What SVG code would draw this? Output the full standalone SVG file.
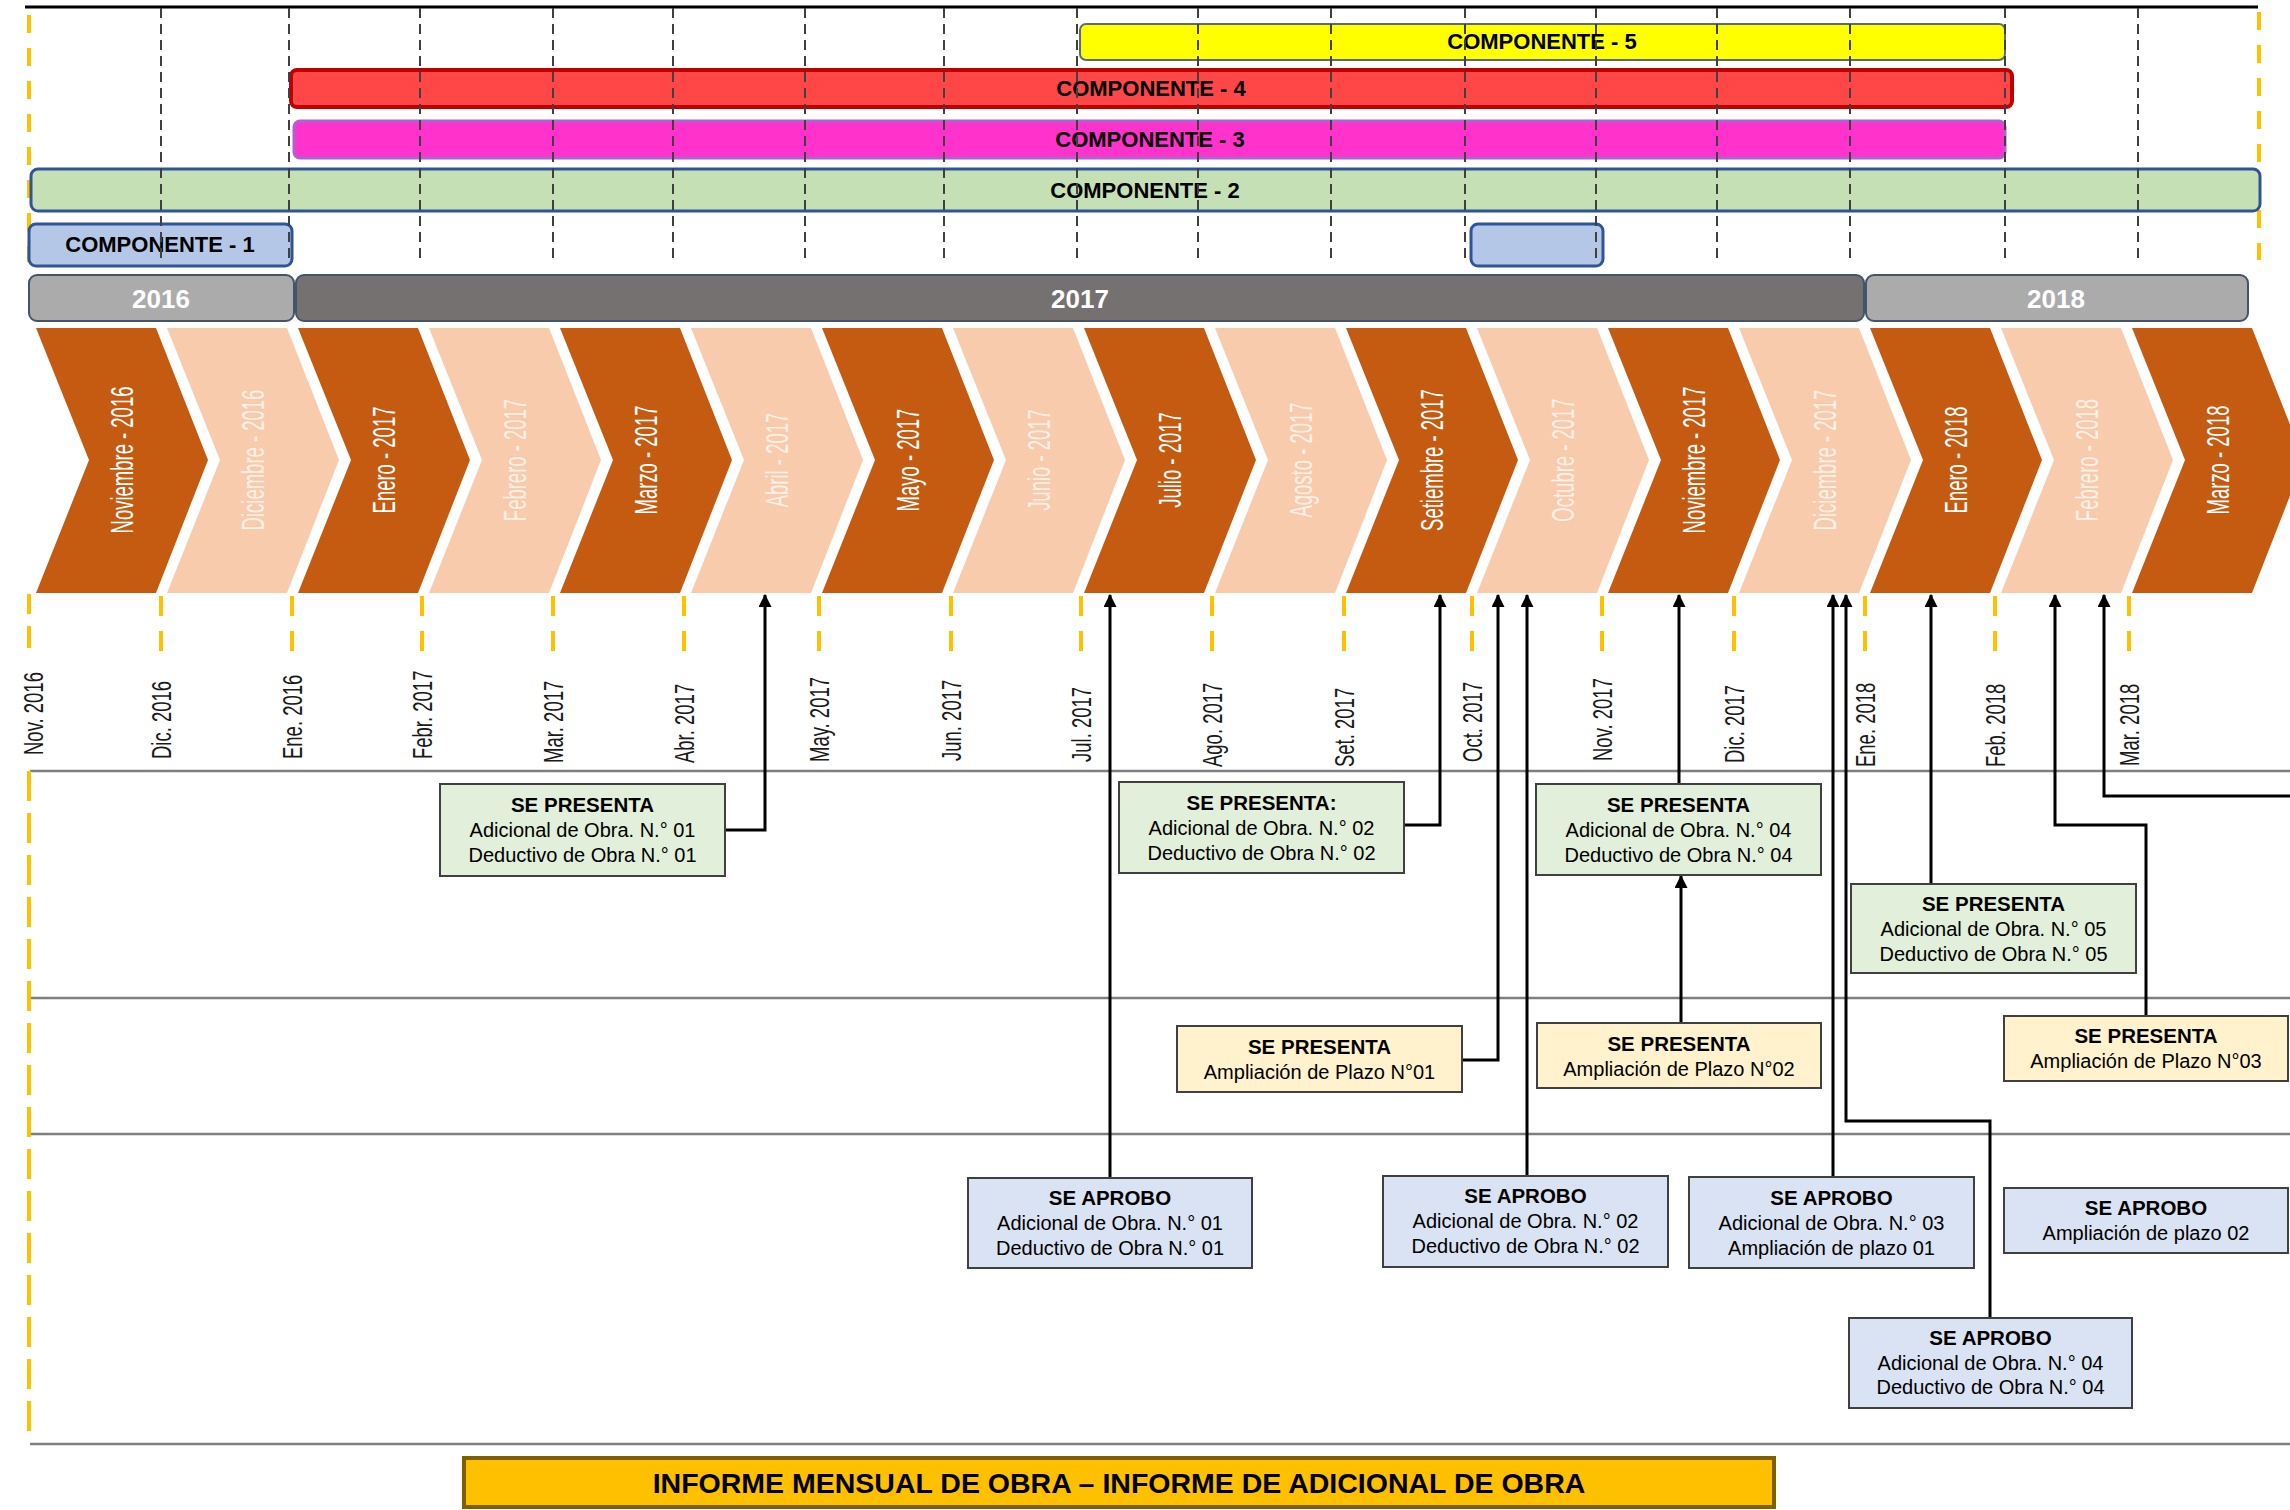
<svg xmlns="http://www.w3.org/2000/svg" width="2290" height="1510" viewBox="0 0 2290 1510">
<defs>
<style>
text{font-family:"Liberation Sans",Arial,sans-serif}
.comp{font-weight:bold;font-size:22px;fill:#000;text-anchor:middle}
.year{font-weight:bold;font-size:26px;fill:#fff;text-anchor:middle}
.chd{fill:#C55A11}
.chl{fill:#F8CBAD}
.ctd{font-size:18.5px;fill:#fff;text-anchor:middle}
.ctl{font-size:18.5px;fill:#FEF1E8;text-anchor:middle}
.mlab{font-size:18.5px;fill:#1a1a1a;text-anchor:start}
.gd{stroke:#404040;stroke-width:2;stroke-dasharray:10 6;fill:none}
.yd{stroke:#FFC000;stroke-width:4;stroke-dasharray:18 15;fill:none}
.tick{stroke:#FFC000;stroke-width:4;fill:none}
.sep{stroke:#7F7F7F;stroke-width:2.5;fill:none}
.bg{fill:#E2EFDA;stroke:#404040;stroke-width:2}
.by{fill:#FFF2CC;stroke:#404040;stroke-width:2}
.bb{fill:#DAE3F3;stroke:#404040;stroke-width:2}
.bt{font-weight:bold;font-size:20.5px;fill:#000;text-anchor:middle}
.bx{font-size:20px;fill:#000;text-anchor:middle}
.con{stroke:#000;stroke-width:3;fill:none;marker-end:url(#arr)}
</style>
<marker id="arr" viewBox="0 0 12 12" markerWidth="13" markerHeight="13" refX="11" refY="6" orient="auto" markerUnits="userSpaceOnUse">
<path d="M0,0 L12,6 L0,12 z" fill="#000"/>
</marker>
</defs>
<rect width="2290" height="1510" fill="#fff"/>

<g id="frame-top">
<line x1="25" y1="7" x2="2258" y2="7" stroke="#000" stroke-width="3"/>
<line class="yd" x1="29" y1="15" x2="29" y2="262"/>
<line class="yd" x1="2259" y1="12" x2="2259" y2="260"/>
</g>

<g id="componente-5">
<rect x="1080" y="24" width="925" height="36" rx="6" fill="#FFFF00" stroke="#5B6B7A" stroke-width="2"/>
<text class="comp" x="1542" y="49">COMPONENTE - 5</text>
</g>
<g id="componente-4">
<rect x="291" y="70" width="1721" height="37" rx="6" fill="#FF4747" stroke="#C00000" stroke-width="4"/>
<text class="comp" x="1151" y="96">COMPONENTE - 4</text>
</g>
<g id="componente-3">
<rect x="294" y="121" width="1711" height="37" rx="6" fill="#FF33CC" stroke="#B060D0" stroke-width="3"/>
<text class="comp" x="1150" y="147">COMPONENTE - 3</text>
</g>
<g id="componente-2">
<rect x="31" y="169" width="2229" height="42" rx="7" fill="#C5E0B4" stroke="#2F5597" stroke-width="3"/>
<text class="comp" x="1145" y="198">COMPONENTE - 2</text>
</g>
<g id="componente-1">
<rect x="29" y="224" width="263" height="42" rx="7" fill="#B4C7E7" stroke="#2F5597" stroke-width="3"/>
<text class="comp" x="160" y="252">COMPONENTE - 1</text>
<rect x="1471" y="224" width="132" height="42" rx="7" fill="#B4C7E7" stroke="#2F5597" stroke-width="3"/>
</g>

<g id="grid-dashed">
<line class="gd" x1="161" y1="8" x2="161" y2="262"/>
<line class="gd" x1="289" y1="8" x2="289" y2="262"/>
<line class="gd" x1="420" y1="8" x2="420" y2="262"/>
<line class="gd" x1="553" y1="8" x2="553" y2="262"/>
<line class="gd" x1="673" y1="8" x2="673" y2="262"/>
<line class="gd" x1="805" y1="8" x2="805" y2="262"/>
<line class="gd" x1="944" y1="8" x2="944" y2="262"/>
<line class="gd" x1="1077" y1="8" x2="1077" y2="262"/>
<line class="gd" x1="1198" y1="8" x2="1198" y2="262"/>
<line class="gd" x1="1331" y1="8" x2="1331" y2="262"/>
<line class="gd" x1="1465" y1="8" x2="1465" y2="262"/>
<line class="gd" x1="1596" y1="8" x2="1596" y2="262"/>
<line class="gd" x1="1717" y1="8" x2="1717" y2="262"/>
<line class="gd" x1="1850" y1="8" x2="1850" y2="262"/>
<line class="gd" x1="2005" y1="8" x2="2005" y2="262"/>
<line class="gd" x1="2138" y1="8" x2="2138" y2="262"/>
</g>

<g id="year-2016">
<rect x="29" y="275" width="265" height="46" rx="8" fill="#ABABAB" stroke="#44546A" stroke-width="2"/>
<text class="year" x="161" y="308">2016</text>
</g>
<g id="year-2017">
<rect x="296" y="275" width="1568" height="46" rx="8" fill="#767171" stroke="#44546A" stroke-width="2"/>
<text class="year" x="1080" y="308">2017</text>
</g>
<g id="year-2018">
<rect x="1866" y="275" width="382" height="46" rx="8" fill="#ABABAB" stroke="#44546A" stroke-width="2"/>
<text class="year" x="2056" y="308">2018</text>
</g>

<g id="chev-nov-2016"><polygon class="chd" points="36,328 156,328 208,460 156,593 36,593 89,460"/><text class="ctd" transform="translate(122,460) rotate(-90) scale(1,1.65)" x="0" y="6.6">Noviembre - 2016</text></g>
<g id="chev-dic-2016"><polygon class="chl" points="167,328 287,328 339,460 287,593 167,593 220,460"/><text class="ctl" transform="translate(253,460) rotate(-90) scale(1,1.65)" x="0" y="6.6">Diciembre - 2016</text></g>
<g id="chev-ene-2017"><polygon class="chd" points="298,328 418,328 470,460 418,593 298,593 351,460"/><text class="ctd" transform="translate(384,460) rotate(-90) scale(1,1.65)" x="0" y="6.6">Enero - 2017</text></g>
<g id="chev-feb-2017"><polygon class="chl" points="429,328 549,328 601,460 549,593 429,593 482,460"/><text class="ctl" transform="translate(515,460) rotate(-90) scale(1,1.65)" x="0" y="6.6">Febrero - 2017</text></g>
<g id="chev-mar-2017"><polygon class="chd" points="560,328 680,328 732,460 680,593 560,593 613,460"/><text class="ctd" transform="translate(646,460) rotate(-90) scale(1,1.65)" x="0" y="6.6">Marzo - 2017</text></g>
<g id="chev-abr-2017"><polygon class="chl" points="691,328 811,328 863,460 811,593 691,593 744,460"/><text class="ctl" transform="translate(777,460) rotate(-90) scale(1,1.65)" x="0" y="6.6">Abril - 2017</text></g>
<g id="chev-may-2017"><polygon class="chd" points="822,328 942,328 994,460 942,593 822,593 875,460"/><text class="ctd" transform="translate(908,460) rotate(-90) scale(1,1.65)" x="0" y="6.6">Mayo - 2017</text></g>
<g id="chev-jun-2017"><polygon class="chl" points="953,328 1073,328 1125,460 1073,593 953,593 1006,460"/><text class="ctl" transform="translate(1039,460) rotate(-90) scale(1,1.65)" x="0" y="6.6">Junio - 2017</text></g>
<g id="chev-jul-2017"><polygon class="chd" points="1084,328 1204,328 1256,460 1204,593 1084,593 1137,460"/><text class="ctd" transform="translate(1170,460) rotate(-90) scale(1,1.65)" x="0" y="6.6">Julio - 2017</text></g>
<g id="chev-ago-2017"><polygon class="chl" points="1215,328 1335,328 1387,460 1335,593 1215,593 1268,460"/><text class="ctl" transform="translate(1301,460) rotate(-90) scale(1,1.65)" x="0" y="6.6">Agosto - 2017</text></g>
<g id="chev-set-2017"><polygon class="chd" points="1346,328 1466,328 1518,460 1466,593 1346,593 1399,460"/><text class="ctd" transform="translate(1432,460) rotate(-90) scale(1,1.65)" x="0" y="6.6">Setiembre - 2017</text></g>
<g id="chev-oct-2017"><polygon class="chl" points="1477,328 1597,328 1649,460 1597,593 1477,593 1530,460"/><text class="ctl" transform="translate(1563,460) rotate(-90) scale(1,1.65)" x="0" y="6.6">Octubre - 2017</text></g>
<g id="chev-nov-2017"><polygon class="chd" points="1608,328 1728,328 1780,460 1728,593 1608,593 1661,460"/><text class="ctd" transform="translate(1694,460) rotate(-90) scale(1,1.65)" x="0" y="6.6">Noviembre - 2017</text></g>
<g id="chev-dic-2017"><polygon class="chl" points="1739,328 1859,328 1911,460 1859,593 1739,593 1792,460"/><text class="ctl" transform="translate(1825,460) rotate(-90) scale(1,1.65)" x="0" y="6.6">Diciembre - 2017</text></g>
<g id="chev-ene-2018"><polygon class="chd" points="1870,328 1990,328 2042,460 1990,593 1870,593 1923,460"/><text class="ctd" transform="translate(1956,460) rotate(-90) scale(1,1.65)" x="0" y="6.6">Enero - 2018</text></g>
<g id="chev-feb-2018"><polygon class="chl" points="2001,328 2121,328 2173,460 2121,593 2001,593 2054,460"/><text class="ctl" transform="translate(2087,460) rotate(-90) scale(1,1.65)" x="0" y="6.6">Febrero - 2018</text></g>
<g id="chev-mar-2018"><polygon class="chd" points="2132,328 2252,328 2304,460 2252,593 2132,593 2185,460"/><text class="ctd" transform="translate(2218,460) rotate(-90) scale(1,1.65)" x="0" y="6.6">Marzo - 2018</text></g>

<g id="ticks">
<path class="tick" d="M29,594V614M29,626V648M161,596V616M161,631V651M292,596V616M292,631V651M422,596V616M422,631V651M553,596V616M553,631V651M684,596V616M684,631V651M819,596V616M819,631V651M951,596V616M951,631V651M1081,596V616M1081,631V651M1212,596V616M1212,631V651M1344,596V616M1344,631V651M1472,596V616M1472,631V651M1602,596V616M1602,631V651M1734,596V616M1734,631V651M1865,596V616M1865,631V651M1995,596V616M1995,631V651M2129,596V616M2129,631V651"/>
</g>

<g id="month-labels">
<text class="mlab" transform="translate(33,755) rotate(-90) scale(1,1.5)" x="0" y="6.6">Nov. 2016</text>
<text class="mlab" transform="translate(161,759) rotate(-90) scale(1,1.5)" x="0" y="6.6">Dic. 2016</text>
<text class="mlab" transform="translate(292,759) rotate(-90) scale(1,1.5)" x="0" y="6.6">Ene. 2016</text>
<text class="mlab" transform="translate(422,759) rotate(-90) scale(1,1.5)" x="0" y="6.6">Febr. 2017</text>
<text class="mlab" transform="translate(553,763) rotate(-90) scale(1,1.5)" x="0" y="6.6">Mar. 2017</text>
<text class="mlab" transform="translate(684,763) rotate(-90) scale(1,1.5)" x="0" y="6.6">Abr. 2017</text>
<text class="mlab" transform="translate(819,762) rotate(-90) scale(1,1.5)" x="0" y="6.6">May. 2017</text>
<text class="mlab" transform="translate(951,761) rotate(-90) scale(1,1.5)" x="0" y="6.6">Jun. 2017</text>
<text class="mlab" transform="translate(1081,762) rotate(-90) scale(1,1.5)" x="0" y="6.6">Jul. 2017</text>
<text class="mlab" transform="translate(1212,767) rotate(-90) scale(1,1.5)" x="0" y="6.6">Ago. 2017</text>
<text class="mlab" transform="translate(1344,767) rotate(-90) scale(1,1.5)" x="0" y="6.6">Set. 2017</text>
<text class="mlab" transform="translate(1472,762) rotate(-90) scale(1,1.5)" x="0" y="6.6">Oct. 2017</text>
<text class="mlab" transform="translate(1602,761) rotate(-90) scale(1,1.5)" x="0" y="6.6">Nov. 2017</text>
<text class="mlab" transform="translate(1734,763) rotate(-90) scale(1,1.5)" x="0" y="6.6">Dic. 2017</text>
<text class="mlab" transform="translate(1865,767) rotate(-90) scale(1,1.5)" x="0" y="6.6">Ene. 2018</text>
<text class="mlab" transform="translate(1995,767) rotate(-90) scale(1,1.5)" x="0" y="6.6">Feb. 2018</text>
<text class="mlab" transform="translate(2129,766) rotate(-90) scale(1,1.5)" x="0" y="6.6">Mar. 2018</text>
</g>

<g id="separators">
<line class="sep" x1="30" y1="771" x2="2290" y2="771"/>
<line class="sep" x1="30" y1="998" x2="2290" y2="998"/>
<line class="sep" x1="30" y1="1134" x2="2290" y2="1134"/>
<line class="sep" x1="30" y1="1444" x2="2290" y2="1444"/>
<line stroke="#FFC000" stroke-width="4" stroke-dasharray="30 12" x1="29" y1="771" x2="29" y2="1438"/>
</g>

<g id="connectors">
<path class="con" d="M725,830 H765 V595"/>
<path class="con" d="M1110,1178 V595"/>
<path class="con" d="M1404,825 H1440 V595"/>
<path class="con" d="M1462,1060 H1498 V595"/>
<path class="con" d="M1527,1176 V595"/>
<path class="con" d="M1679,784 V595"/>
<path class="con" d="M1681,1023 V876"/>
<path class="con" d="M1833,1177 V595"/>
<path class="con" d="M1990,1318 V1121 H1846 V595"/>
<path class="con" d="M1931,884 V595"/>
<path class="con" d="M2146,1016 V825 H2055 V595"/>
<path class="con" d="M2290,796 H2104 V595"/>
</g>

<g id="presenta-adicional-01">
<rect class="bg" x="440" y="784" width="285" height="92"/>
<text class="bt" x="582.5" y="812">SE PRESENTA</text>
<text class="bx" x="582.5" y="837">Adicional de Obra. N.° 01</text>
<text class="bx" x="582.5" y="862">Deductivo de Obra N.° 01</text>
</g>
<g id="presenta-adicional-02">
<rect class="bg" x="1119" y="782" width="285" height="91"/>
<text class="bt" x="1261.5" y="810">SE PRESENTA:</text>
<text class="bx" x="1261.5" y="835">Adicional de Obra. N.° 02</text>
<text class="bx" x="1261.5" y="860">Deductivo de Obra N.° 02</text>
</g>
<g id="presenta-adicional-04">
<rect class="bg" x="1536" y="784" width="285" height="91"/>
<text class="bt" x="1678.5" y="812">SE PRESENTA</text>
<text class="bx" x="1678.5" y="837">Adicional de Obra. N.° 04</text>
<text class="bx" x="1678.5" y="862">Deductivo de Obra N.° 04</text>
</g>
<g id="presenta-adicional-05">
<rect class="bg" x="1851" y="884" width="285" height="89"/>
<text class="bt" x="1993.5" y="911">SE PRESENTA</text>
<text class="bx" x="1993.5" y="936">Adicional de Obra. N.° 05</text>
<text class="bx" x="1993.5" y="961">Deductivo de Obra N.° 05</text>
</g>
<g id="presenta-ampliacion-01">
<rect class="by" x="1177" y="1026" width="285" height="66"/>
<text class="bt" x="1319.5" y="1054">SE PRESENTA</text>
<text class="bx" x="1319.5" y="1079">Ampliación de Plazo N°01</text>
</g>
<g id="presenta-ampliacion-02">
<rect class="by" x="1537" y="1023" width="284" height="65"/>
<text class="bt" x="1679" y="1051">SE PRESENTA</text>
<text class="bx" x="1679" y="1076">Ampliación de Plazo N°02</text>
</g>
<g id="presenta-ampliacion-03">
<rect class="by" x="2004" y="1016" width="284" height="65"/>
<text class="bt" x="2146" y="1043">SE PRESENTA</text>
<text class="bx" x="2146" y="1068">Ampliación de Plazo N°03</text>
</g>
<g id="aprobo-01">
<rect class="bb" x="968" y="1178" width="284" height="90"/>
<text class="bt" x="1110" y="1205">SE APROBO</text>
<text class="bx" x="1110" y="1230">Adicional de Obra. N.° 01</text>
<text class="bx" x="1110" y="1255">Deductivo de Obra N.° 01</text>
</g>
<g id="aprobo-02">
<rect class="bb" x="1383" y="1176" width="285" height="91"/>
<text class="bt" x="1525.5" y="1203">SE APROBO</text>
<text class="bx" x="1525.5" y="1228">Adicional de Obra. N.° 02</text>
<text class="bx" x="1525.5" y="1253">Deductivo de Obra N.° 02</text>
</g>
<g id="aprobo-03">
<rect class="bb" x="1689" y="1177" width="285" height="91"/>
<text class="bt" x="1831.5" y="1205">SE APROBO</text>
<text class="bx" x="1831.5" y="1230">Adicional de Obra. N.° 03</text>
<text class="bx" x="1831.5" y="1255">Ampliación de plazo 01</text>
</g>
<g id="aprobo-ampliacion-02">
<rect class="bb" x="2004" y="1188" width="284" height="65"/>
<text class="bt" x="2146" y="1215">SE APROBO</text>
<text class="bx" x="2146" y="1240">Ampliación de plazo 02</text>
</g>
<g id="aprobo-04">
<rect class="bb" x="1849" y="1318" width="283" height="90"/>
<text class="bt" x="1990.5" y="1345">SE APROBO</text>
<text class="bx" x="1990.5" y="1370">Adicional de Obra. N.° 04</text>
<text class="bx" x="1990.5" y="1394">Deductivo de Obra N.° 04</text>
</g>

<g id="title">
<rect x="464" y="1458" width="1310" height="49" fill="#FFC000" stroke="#7F6000" stroke-width="4"/>
<text x="1119" y="1493" font-weight="bold" font-size="28.5" text-anchor="middle" fill="#000">INFORME MENSUAL DE OBRA – INFORME DE ADICIONAL DE OBRA</text>
</g>
</svg>
